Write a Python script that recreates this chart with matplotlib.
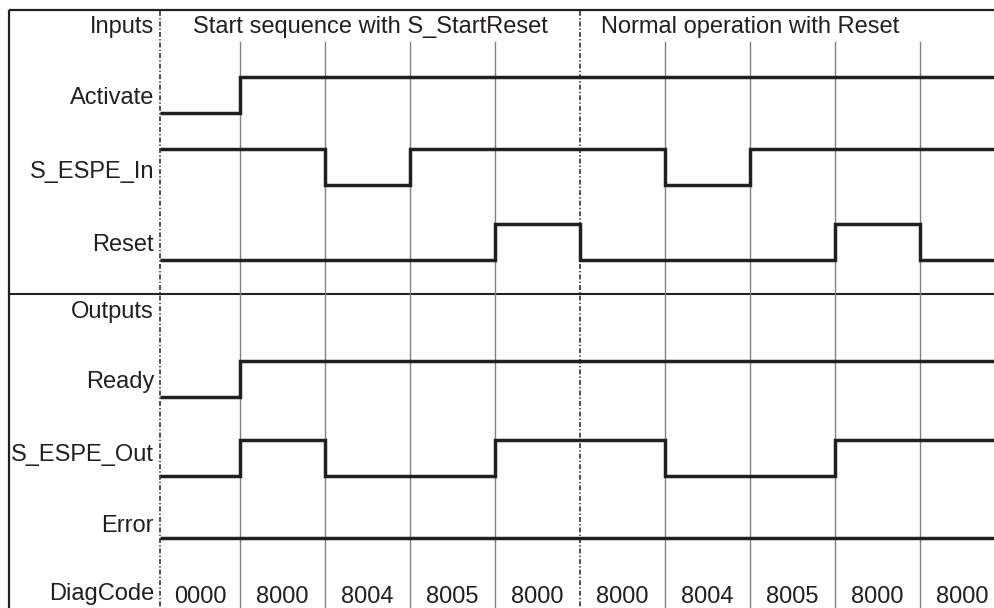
import matplotlib
matplotlib.use("Agg")
import matplotlib.pyplot as plt
from matplotlib.transforms import ScaledTranslation

# ── Data ──────────────────────────────────────────────────────────
input_names = ["Activate", "S_ESPE_In", "Reset"]
output_names = ["Ready", "S_ESPE_Out", "Error"]

# signal level per time slot (10 slots)
activate   = [0, 1, 1, 1, 1, 1, 1, 1, 1, 1]
s_espe_in  = [1, 1, 0, 1, 1, 1, 0, 1, 1, 1]
reset      = [0, 0, 0, 0, 1, 0, 0, 0, 1, 0]
ready      = [0, 1, 1, 1, 1, 1, 1, 1, 1, 1]
s_espe_out = [0, 1, 0, 0, 1, 1, 0, 0, 1, 1]
error      = [0, 0, 0, 0, 0, 0, 0, 0, 0, 0]

diag_codes = ["0000", "8000", "8004", "8005", "8000",
              "8000", "8004", "8005", "8000", "8000"]

phase_names = ["Start sequence with S_StartReset", "Normal operation with Reset"]
phase_start = [0, 5]

# ── Layout ────────────────────────────────────────────────────────
W, H = 995, 608
SLOT = 85.0                      # px per time slot
T1_PX = 240.0                    # px position of boundary t=1


def t_of(px):
    return 1 + (px - T1_PX) / SLOT


t_vis = t_of(160)                # label separator / signal start
t_frame = t_of(9)
t_end = t_of(W)

# y positions in px from top: (low level, label baseline)
rows = {
    "Activate":   (113, 104),
    "S_ESPE_In":  (185, 178),
    "Reset":      (260, 251),
    "Ready":      (397, 388),
    "S_ESPE_Out": (476, 461),
    "Error":      (538, 532),
}
AMP = 36
INK = "#231f20"
GRID = "#7f8083"
FS = 17

plt.rcParams["font.family"] = ["Liberation Sans", "DejaVu Sans"]

fig = plt.figure(figsize=(W / 100, H / 100), dpi=100)
ax = fig.add_axes([0, 0, 1, 1])
ax.set_xlim(t_of(0), t_end)
ax.set_ylim(H, 0)
ax.axis("off")

label_tf = ax.transData + ScaledTranslation(-6 / 100, 0, fig.dpi_scale_trans)

# frame and divider
ax.plot([t_frame, t_end], [10, 10], color=INK, lw=1.6, solid_capstyle="butt")
ax.plot([t_frame, t_frame], [9.5, H], color=INK, lw=1.6, solid_capstyle="butt")
ax.plot([t_frame, t_end], [293.5, 293.5], color=INK, lw=1.5)

# grid lines at slot boundaries
for k in range(1, 10):
    if k in phase_start:
        continue
    ax.plot([k, k], [42, H], color=GRID, lw=1.0)

# dash-dot separators
for t in [t_vis, phase_start[1]]:
    ax.plot([t, t], [11, H], color=INK, lw=1.1, linestyle=(0, (3.2, 1.4, 0.9, 1.4)))

# waveforms
signals = {
    "Activate": activate, "S_ESPE_In": s_espe_in, "Reset": reset,
    "Ready": ready, "S_ESPE_Out": s_espe_out, "Error": error,
}
n = len(diag_codes)
xs = [t_vis] + list(range(1, n + 1))
for name, vals in signals.items():
    low, base = rows[name]
    ys = [low - AMP * v for v in vals] + [low - AMP * vals[-1]]
    ax.step(xs, ys, where="post", color=INK, lw=2.5, solid_joinstyle="miter",
            solid_capstyle="butt")
    ax.text(t_vis, base, name, ha="right", va="baseline", fontsize=FS, color=INK,
            transform=label_tf)

# section labels
for label, base in [("Inputs", 33), ("Outputs", 318), ("DiagCode", 600)]:
    ax.text(t_vis, base, label, ha="right", va="baseline", fontsize=FS, color=INK,
            transform=label_tf)

# phase headers
ax.text((t_vis + phase_start[1]) / 2, 33, phase_names[0], ha="center", va="baseline",
        fontsize=FS, color=INK)
ax.text(phase_start[1] + 2, 33, phase_names[1], ha="center", va="baseline",
        fontsize=FS, color=INK)

# diag codes per slot
for i, code in enumerate(diag_codes):
    left = max(i, t_vis)
    ax.text((left + i + 1) / 2, 603, code, ha="center", va="baseline",
            fontsize=FS, color=INK)

fig.savefig("out.png", dpi=100)
